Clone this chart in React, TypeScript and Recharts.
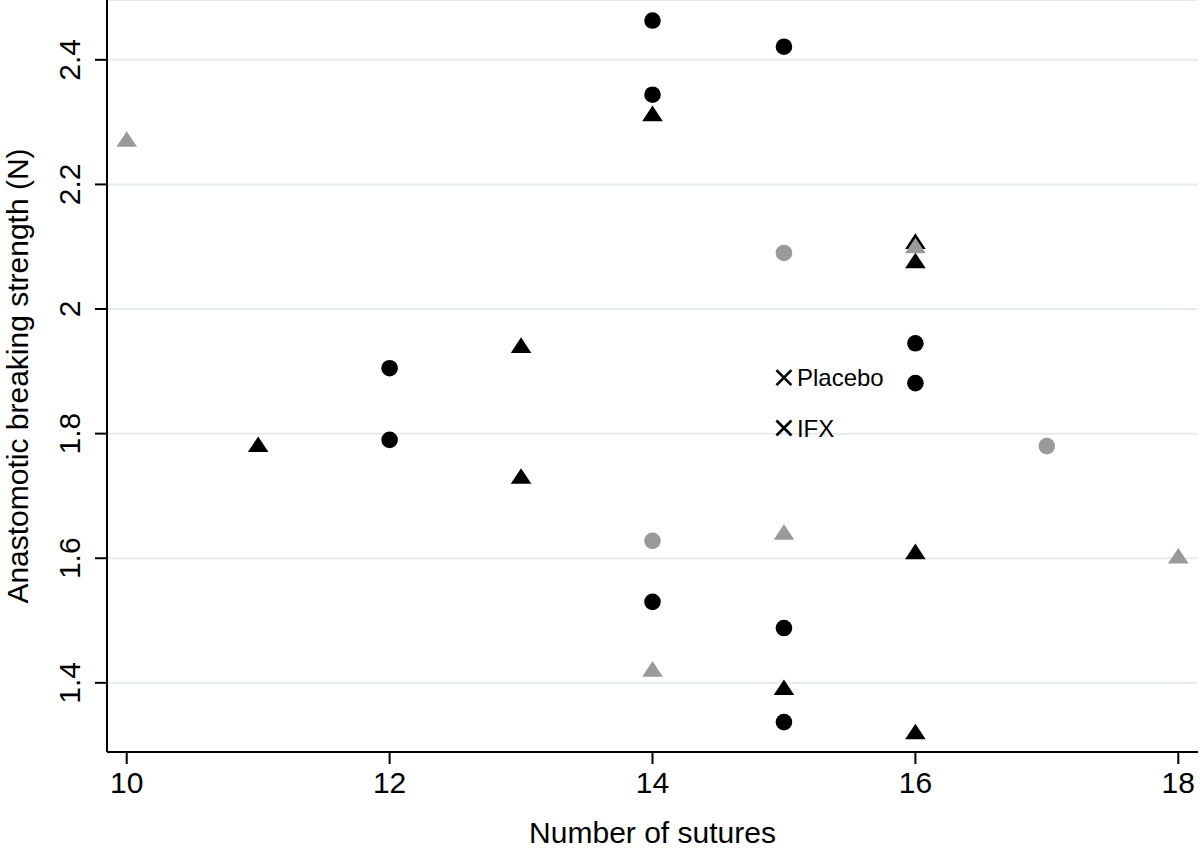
import React from 'react';
import { ScatterChart, Scatter, XAxis, YAxis, CartesianGrid } from 'recharts';

// sutures vs breaking strength
const blackCircles = [
  { x: 12, y: 1.905 },
  { x: 12, y: 1.79 },
  { x: 14, y: 2.463 },
  { x: 14, y: 2.344 },
  { x: 14, y: 1.53 },
  { x: 15, y: 2.421 },
  { x: 15, y: 1.488 },
  { x: 15, y: 1.337 },
  { x: 16, y: 1.945 },
  { x: 16, y: 1.881 },
];

const blackTriangles = [
  { x: 11, y: 1.783 },
  { x: 13, y: 1.942 },
  { x: 13, y: 1.732 },
  { x: 14, y: 2.314 },
  { x: 15, y: 1.393 },
  { x: 16, y: 2.109 },
  { x: 16, y: 2.078 },
  { x: 16, y: 1.611 },
  { x: 16, y: 1.322 },
];

const grayCircles = [
  { x: 14, y: 1.628 },
  { x: 15, y: 2.09 },
  { x: 17, y: 1.78 },
];

const grayTriangles = [
  { x: 10, y: 2.273 },
  { x: 14, y: 1.4225 },
  { x: 15, y: 1.642 },
  { x: 16, y: 2.102 },
  { x: 18, y: 1.604 },
];

const groupMarkers = [
  { x: 15, y: 1.89, label: 'Placebo' },
  { x: 15, y: 1.809, label: 'IFX' },
];

const xTicks = [10, 12, 14, 16, 18];
const yTicks = [1.4, 1.6, 1.8, 2, 2.2, 2.4];

const BLACK = '#000000';
const GRAY = '#9a9a9a';

const circleShape = (fill: string) => (props: any) => {
  const { cx, cy } = props;
  return <circle cx={cx} cy={cy} r={8.3} fill={fill} />;
};

const triangleShape = (fill: string) => (props: any) => {
  const { cx, cy } = props;
  const w = 10.3;
  const h = 7.8;
  return (
    <polygon
      points={`${cx},${cy - h} ${cx + w},${cy + h} ${cx - w},${cy + h}`}
      fill={fill}
    />
  );
};

const crossShape = (props: any) => {
  const { cx, cy, payload } = props;
  const s = 7.5;
  return (
    <g>
      <line x1={cx - s} y1={cy - s} x2={cx + s} y2={cy + s} stroke={BLACK} strokeWidth={2.6} />
      <line x1={cx - s} y1={cy + s} x2={cx + s} y2={cy - s} stroke={BLACK} strokeWidth={2.6} />
      <text x={cx + 13} y={cy} dominantBaseline="central" fontSize={24} fill={BLACK}>
        {payload.label}
      </text>
    </g>
  );
};

const YTick = (props: any) => {
  const { y, payload } = props;
  const cx = 70;
  return (
    <text
      x={cx}
      y={y}
      transform={`rotate(-90 ${cx} ${y})`}
      textAnchor="middle"
      dominantBaseline="central"
      fontSize={30}
      fill={BLACK}
    >
      {payload.value}
    </text>
  );
};

export default function App() {
  return (
    <div style={{ width: 1200, height: 851, fontFamily: '"Liberation Sans", Arial, Helvetica, sans-serif', background: '#fff' }}>
      <style>{'body{margin:0}'}</style>
      <ScatterChart width={1200} height={851} margin={{ top: 0, right: 2, left: 0, bottom: 0 }}>
        <CartesianGrid vertical={false} stroke="#e5eded" strokeWidth={2} />
        <XAxis
          type="number"
          dataKey="x"
          domain={[9.85, 18.15]}
          ticks={xTicks}
          allowDataOverflow
          height={99}
          tickSize={12}
          tickMargin={8}
          axisLine={{ stroke: BLACK, strokeWidth: 2 }}
          tickLine={{ stroke: BLACK, strokeWidth: 2 }}
          tick={{ fontSize: 30, fill: BLACK }}
          label={{ value: 'Number of sutures', position: 'insideBottom', offset: 8, fontSize: 30, fill: BLACK }}
        />
        <YAxis
          type="number"
          dataKey="y"
          domain={[1.289, 2.496]}
          ticks={yTicks}
          allowDataOverflow
          width={107}
          tickSize={12}
          axisLine={{ stroke: BLACK, strokeWidth: 2 }}
          tickLine={{ stroke: BLACK, strokeWidth: 2 }}
          tick={<YTick />}
          label={{
            value: 'Anastomotic breaking strength (N)',
            angle: -90,
            position: 'insideLeft',
            offset: 17,
            fontSize: 30,
            fill: BLACK,
            style: { textAnchor: 'middle' },
          }}
        />
        <Scatter data={blackCircles} shape={circleShape(BLACK)} isAnimationActive={false} />
        <Scatter data={blackTriangles} shape={triangleShape(BLACK)} isAnimationActive={false} />
        <Scatter data={grayCircles} shape={circleShape(GRAY)} isAnimationActive={false} />
        <Scatter data={grayTriangles} shape={triangleShape(GRAY)} isAnimationActive={false} />
        <Scatter data={groupMarkers} shape={crossShape} isAnimationActive={false} />
      </ScatterChart>
    </div>
  );
}
